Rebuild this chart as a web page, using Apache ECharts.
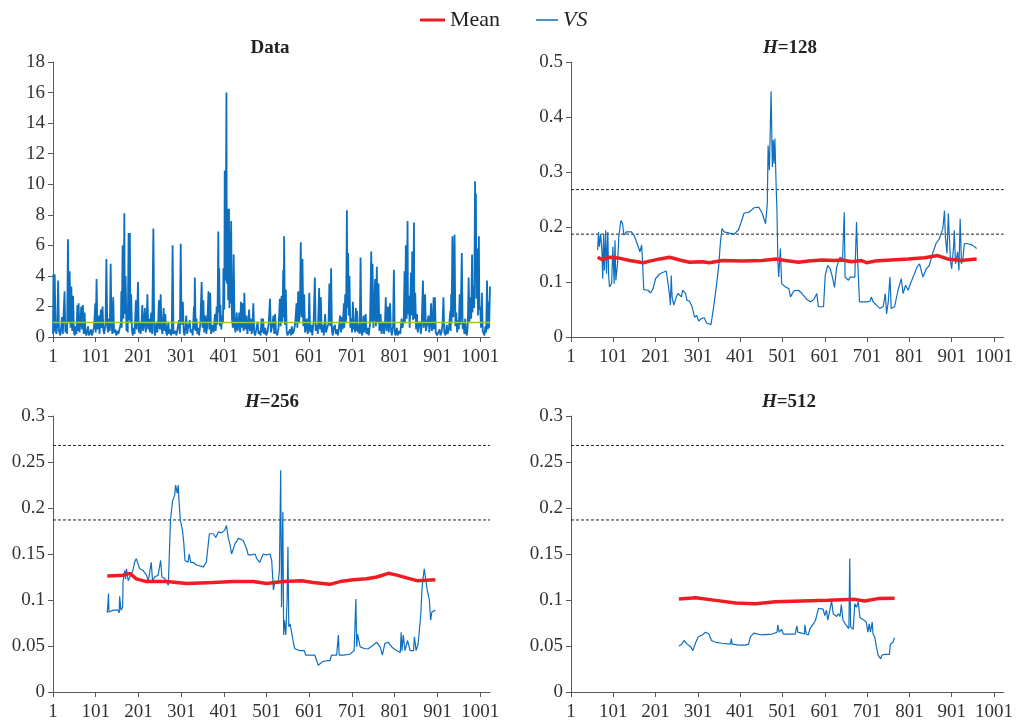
<!DOCTYPE html>
<html>
<head>
<meta charset="utf-8">
<script src="https://cdn.jsdelivr.net/npm/echarts@6/dist/echarts.min.js"></script>
<style>
  html, body { margin: 0; padding: 0; background: #fff; }
  #main { width: 1016px; height: 722px; }
</style>
</head>
<body>
<div id="main"></div>
<script>
// x ticks shared by all panels
var xTicks = [1, 101, 201, 301, 401, 501, 601, 701, 801, 901, 1001];
var critLevels = [0.268, 0.187];
var dataMean = 0.95;

// raw data panel, [index, value]
var rawData = [[1,0.2],[2,4.1],[3,0.3],[5,4.1],[7,0.5],[9,0.2],[11,0.8],[13,3.7],[15,0.4],[18,0.1],[20,0.6],[22,1.3],[24,0.2],[26,0.1],[28,3.0],[30,0.3],[32,0.8],[34,0.2],[36,6.4],[38,0.9],[40,4.3],[42,0.6],[44,3.3],[46,0.4],[48,2.7],[50,0.3],[52,0.1],[54,0.7],[56,0.2],[58,2.1],[59,0.4],[61,2.2],[63,0.3],[65,0.9],[67,2.0],[69,0.5],[71,2.1],[73,0.2],[75,1.6],[77,0.3],[79,0.1],[81,0.4],[83,0.7],[85,0.1],[88,0.3],[90,0.5],[92,0.1],[95,0.2],[97,0.6],[100,2.2],[101,0.3],[103,3.8],[105,0.5],[108,1.4],[110,0.2],[113,1.8],[115,0.6],[117,2.0],[119,0.4],[121,0.2],[124,0.9],[126,5.1],[128,0.7],[130,0.3],[132,1.2],[134,0.4],[136,4.8],[138,0.8],[140,0.2],[142,2.6],[144,0.3],[147,0.5],[149,0.1],[152,0.4],[154,0.2],[156,0.3],[158,0.1],[160,0.9],[161,3.0],[162,0.6],[164,6.0],[166,1.2],[168,8.1],[169,1.5],[171,4.0],[173,0.4],[175,1.0],[176,0.3],[178,6.8],[179,1.1],[181,6.8],[182,0.9],[184,2.8],[186,0.4],[188,0.1],[190,0.6],[192,0.2],[195,2.4],[197,0.5],[200,3.6],[202,0.3],[204,1.0],[206,0.2],[208,0.7],[210,2.1],[212,0.4],[214,0.9],[216,1.9],[218,0.3],[220,0.8],[222,2.8],[224,0.5],[226,1.2],[228,0.3],[231,1.6],[233,0.2],[236,7.1],[238,0.4],[240,0.1],[243,1.0],[245,0.3],[247,0.8],[249,2.4],[251,0.5],[253,2.8],[255,0.6],[257,0.2],[260,1.9],[262,0.4],[264,1.5],[266,0.3],[268,0.1],[271,1.0],[273,0.2],[275,0.5],[277,0.1],[279,0.3],[281,6.0],[283,0.2],[285,0.1],[288,0.4],[290,0.1],[293,0.6],[296,1.1],[298,0.2],[300,6.1],[302,0.8],[305,2.3],[307,0.3],[309,0.1],[311,0.6],[313,1.4],[315,0.2],[318,0.7],[321,1.1],[323,0.3],[326,0.5],[328,0.1],[331,2.0],[332,0.5],[333,3.9],[335,0.4],[337,1.2],[339,0.2],[341,0.6],[343,0.1],[346,0.9],[349,3.6],[351,0.6],[353,2.4],[355,0.3],[358,1.4],[360,0.2],[362,0.7],[365,3.0],[367,0.5],[369,2.9],[371,0.2],[374,0.8],[377,0.3],[380,1.5],[382,0.4],[384,2.0],[386,0.8],[388,6.9],[389,1.6],[390,4.5],[392,0.7],[393,2.1],[395,0.5],[397,1.4],[399,0.9],[400,4.5],[402,1.8],[403,10.9],[405,3.7],[407,16.0],[408,3.5],[410,8.4],[411,2.4],[413,8.4],[414,1.9],[416,6.9],[417,2.2],[418,7.6],[420,1.2],[422,0.6],[424,5.4],[426,0.8],[428,0.3],[431,1.6],[433,0.4],[435,0.8],[437,1.6],[439,0.3],[441,2.3],[443,0.6],[445,2.2],[447,0.4],[449,2.9],[451,0.5],[454,1.4],[456,0.2],[458,0.7],[460,1.8],[462,0.4],[464,1.2],[466,0.2],[468,0.6],[470,2.2],[472,0.3],[474,0.1],[477,0.5],[480,1.0],[482,0.2],[485,0.4],[487,0.1],[489,1.2],[491,0.3],[493,1.2],[495,0.2],[498,0.6],[500,0.1],[503,0.3],[506,0.9],[509,2.5],[511,0.3],[514,0.7],[517,1.4],[519,0.2],[521,1.5],[523,0.3],[526,0.1],[529,0.6],[532,2.5],[534,0.7],[536,2.7],[538,1.0],[540,4.4],[541,1.3],[542,6.6],[544,0.8],[546,3.1],[548,0.4],[550,0.1],[553,0.3],[556,0.5],[558,0.1],[560,0.7],[562,0.2],[565,0.4],[568,0.9],[571,2.2],[573,0.6],[575,3.0],[577,0.9],[579,1.8],[581,6.2],[583,1.3],[585,5.1],[587,0.7],[589,2.8],[591,0.3],[593,0.6],[595,1.2],[597,0.2],[599,0.5],[601,2.9],[603,0.3],[606,0.8],[608,0.1],[611,0.9],[614,3.9],[616,0.4],[619,0.8],[621,0.2],[624,3.2],[626,0.5],[628,2.6],[630,0.3],[633,0.8],[635,0.1],[638,1.5],[640,0.3],[643,0.6],[646,0.9],[648,3.5],[650,0.7],[652,4.5],[654,0.4],[656,0.1],[658,0.6],[661,0.8],[663,0.2],[666,0.5],[668,0.1],[671,0.8],[673,1.4],[675,0.3],[677,1.3],[679,0.5],[682,2.2],[683,0.6],[685,2.8],[687,1.0],[689,8.3],[690,1.9],[692,5.5],[693,1.4],[695,4.0],[697,0.6],[699,1.2],[701,0.3],[703,2.3],[705,0.5],[707,1.0],[708,0.3],[710,1.9],[712,0.4],[713,1.7],[715,0.3],[717,0.8],[719,0.2],[721,5.2],[723,0.4],[725,0.1],[728,1.4],[730,0.3],[733,1.5],[735,0.2],[738,0.6],[740,0.1],[743,0.8],[746,5.6],[747,1.0],[749,4.8],[751,0.6],[753,1.5],[755,3.8],[757,0.7],[759,4.6],[761,0.9],[763,3.5],[765,0.4],[768,1.5],[770,0.2],[772,0.6],[774,1.0],[776,0.2],[778,0.8],[780,2.6],[782,0.4],[785,2.0],[787,0.3],[790,2.2],[792,0.5],[794,0.1],[797,0.7],[799,4.4],[801,0.3],[803,0.1],[806,0.6],[808,0.1],[811,0.4],[814,0.2],[817,1.2],[819,0.6],[822,1.1],[824,4.3],[825,0.9],[827,6.0],[829,1.2],[831,7.6],[832,1.5],[834,2.7],[836,0.6],[839,4.2],[840,1.4],[842,5.6],[844,1.1],[846,7.5],[847,1.2],[849,2.9],[851,0.5],[853,1.5],[855,0.3],[857,0.8],[860,1.0],[862,0.2],[864,0.7],[867,3.7],[869,0.6],[872,2.8],[874,0.4],[877,0.9],[880,1.4],[882,0.3],[884,0.9],[886,2.2],[888,0.4],[890,0.9],[892,2.6],[893,0.5],[895,2.6],[897,0.3],[900,0.1],[903,0.3],[906,0.5],[908,0.1],[911,0.4],[913,0.9],[915,2.6],[917,0.3],[920,0.1],[923,0.8],[925,0.2],[928,0.6],[931,1.7],[932,0.4],[933,2.8],[934,0.9],[936,6.6],[938,1.3],[941,6.7],[943,0.7],[945,1.6],[947,0.3],[949,1.1],[951,0.5],[953,2.8],[955,0.8],[958,5.5],[960,0.5],[962,1.0],[964,0.2],[966,1.2],[968,0.3],[970,0.1],[972,0.8],[974,3.9],[976,1.0],[978,2.6],[980,1.2],[982,5.4],[983,1.6],[985,3.3],[987,1.9],[989,10.2],[990,4.0],[991,9.4],[992,2.5],[994,5.8],[996,1.4],[998,6.6],[999,1.8],[1001,2.0],[1003,0.6],[1005,2.9],[1007,0.4],[1009,0.5],[1011,0.1],[1013,0.7],[1015,0.3],[1017,3.7],[1019,0.5],[1021,2.3],[1022,0.6],[1024,3.3]];

// H=128
var vs128 = [[64,0.158],[66,0.191],[68,0.164],[71,0.187],[74,0.158],[76,0.106],[78,0.188],[80,0.121],[83,0.194],[85,0.115],[88,0.191],[90,0.112],[92,0.091],[93,0.088],[97,0.097],[100,0.164],[103,0.097],[105,0.176],[107,0.103],[111,0.133],[114,0.182],[119,0.212],[123,0.206],[126,0.185],[132,0.191],[144,0.191],[150,0.185],[160,0.164],[164,0.155],[168,0.167],[170,0.139],[173,0.086],[183,0.085],[189,0.080],[195,0.088],[201,0.106],[211,0.115],[226,0.120],[230,0.100],[234,0.076],[236,0.058],[238,0.112],[240,0.073],[244,0.058],[250,0.073],[254,0.079],[262,0.073],[265,0.085],[272,0.079],[275,0.067],[281,0.065],[287,0.056],[293,0.036],[298,0.039],[303,0.029],[308,0.033],[316,0.035],[322,0.025],[327,0.024],[332,0.023],[337,0.048],[344,0.088],[350,0.127],[354,0.170],[358,0.197],[363,0.191],[375,0.189],[387,0.187],[397,0.195],[402,0.206],[410,0.225],[422,0.227],[434,0.235],[445,0.236],[453,0.225],[461,0.206],[465,0.242],[467,0.348],[470,0.303],[474,0.447],[477,0.309],[479,0.358],[481,0.315],[483,0.361],[486,0.273],[488,0.227],[490,0.139],[492,0.109],[496,0.161],[499,0.097],[502,0.094],[508,0.091],[516,0.088],[520,0.073],[528,0.084],[539,0.085],[547,0.079],[559,0.068],[567,0.064],[575,0.068],[582,0.079],[586,0.055],[598,0.055],[602,0.112],[608,0.130],[614,0.124],[619,0.109],[624,0.090],[629,0.127],[637,0.145],[643,0.142],[647,0.227],[649,0.109],[653,0.106],[657,0.103],[661,0.109],[665,0.112],[672,0.109],[676,0.209],[679,0.133],[683,0.064],[692,0.064],[700,0.064],[708,0.065],[711,0.073],[715,0.064],[723,0.058],[731,0.052],[739,0.055],[744,0.079],[747,0.042],[751,0.064],[755,0.109],[758,0.052],[766,0.055],[774,0.085],[782,0.106],[786,0.079],[792,0.094],[798,0.085],[805,0.100],[813,0.115],[819,0.127],[825,0.133],[833,0.109],[841,0.124],[848,0.130],[856,0.152],[864,0.170],[872,0.179],[880,0.197],[884,0.230],[886,0.182],[890,0.152],[893,0.225],[898,0.139],[901,0.124],[906,0.170],[907,0.194],[910,0.133],[915,0.155],[918,0.121],[921,0.215],[924,0.133],[927,0.139],[931,0.170],[937,0.170],[950,0.167],[960,0.161]];
var mean128 = [[64,0.145],[74,0.141],[93,0.145],[117,0.143],[140,0.139],[172,0.135],[187,0.138],[211,0.142],[234,0.145],[258,0.140],[281,0.136],[312,0.137],[328,0.135],[359,0.139],[406,0.138],[453,0.139],[485,0.142],[508,0.139],[539,0.136],[563,0.138],[594,0.140],[625,0.139],[641,0.140],[665,0.137],[688,0.139],[700,0.135],[719,0.138],[758,0.140],[798,0.142],[837,0.144],[868,0.148],[891,0.142],[923,0.139],[960,0.142]];

// H=256
var vs256 = [[128,0.086],[131,0.107],[132,0.087],[142,0.089],[153,0.089],[156,0.086],[157,0.104],[160,0.089],[164,0.092],[165,0.120],[169,0.132],[171,0.123],[173,0.134],[177,0.121],[181,0.125],[185,0.129],[188,0.132],[192,0.141],[196,0.145],[200,0.147],[204,0.134],[212,0.132],[220,0.127],[224,0.120],[228,0.121],[231,0.141],[234,0.121],[239,0.125],[247,0.127],[253,0.143],[256,0.125],[263,0.123],[271,0.116],[276,0.187],[281,0.208],[286,0.214],[288,0.225],[292,0.216],[294,0.225],[296,0.208],[299,0.187],[304,0.176],[307,0.163],[310,0.143],[317,0.141],[320,0.150],[323,0.141],[329,0.141],[337,0.138],[353,0.136],[360,0.141],[367,0.172],[376,0.172],[382,0.168],[388,0.174],[396,0.173],[403,0.176],[407,0.181],[411,0.168],[415,0.161],[419,0.150],[427,0.161],[435,0.167],[446,0.165],[454,0.156],[458,0.149],[466,0.149],[474,0.150],[478,0.145],[485,0.141],[493,0.150],[501,0.149],[509,0.150],[513,0.143],[517,0.111],[521,0.121],[524,0.123],[528,0.118],[531,0.132],[534,0.241],[536,0.092],[539,0.196],[541,0.062],[543,0.078],[546,0.062],[549,0.100],[551,0.158],[553,0.071],[556,0.074],[564,0.053],[567,0.047],[579,0.045],[589,0.045],[593,0.040],[603,0.040],[614,0.040],[618,0.042],[622,0.029],[626,0.027],[632,0.033],[642,0.034],[649,0.034],[653,0.040],[665,0.040],[669,0.062],[671,0.040],[681,0.040],[696,0.041],[706,0.045],[710,0.101],[712,0.049],[714,0.063],[720,0.049],[731,0.047],[739,0.047],[751,0.051],[759,0.054],[767,0.049],[772,0.040],[778,0.053],[786,0.054],[794,0.049],[802,0.046],[814,0.043],[816,0.065],[818,0.045],[821,0.062],[825,0.045],[831,0.056],[837,0.045],[845,0.045],[847,0.060],[851,0.045],[856,0.053],[862,0.085],[865,0.114],[870,0.134],[874,0.132],[877,0.111],[882,0.100],[885,0.078],[888,0.087],[892,0.085],[896,0.089]];
var mean256 = [[128,0.126],[165,0.127],[181,0.129],[196,0.123],[220,0.120],[267,0.120],[314,0.118],[376,0.119],[423,0.120],[470,0.120],[501,0.118],[540,0.120],[583,0.121],[610,0.119],[649,0.117],[673,0.120],[704,0.122],[735,0.123],[759,0.125],[786,0.129],[806,0.127],[829,0.124],[853,0.121],[896,0.122]];

// H=512
var vs512 = [[256,0.050],[263,0.052],[268,0.056],[276,0.052],[284,0.049],[289,0.045],[296,0.054],[302,0.060],[311,0.062],[319,0.065],[327,0.063],[333,0.056],[343,0.054],[358,0.053],[378,0.052],[380,0.058],[382,0.052],[398,0.051],[413,0.051],[421,0.052],[425,0.060],[433,0.064],[437,0.062],[452,0.062],[476,0.063],[488,0.065],[490,0.073],[493,0.065],[499,0.068],[503,0.063],[515,0.063],[531,0.063],[535,0.072],[537,0.065],[546,0.064],[553,0.063],[554,0.073],[557,0.063],[562,0.062],[566,0.069],[570,0.069],[574,0.074],[579,0.078],[586,0.091],[597,0.090],[601,0.083],[605,0.089],[608,0.078],[613,0.089],[617,0.099],[621,0.085],[625,0.083],[629,0.082],[633,0.085],[637,0.082],[640,0.095],[644,0.078],[652,0.072],[658,0.069],[660,0.145],[662,0.071],[668,0.068],[672,0.096],[676,0.092],[680,0.098],[684,0.081],[688,0.081],[694,0.078],[699,0.076],[703,0.065],[706,0.074],[709,0.065],[713,0.076],[715,0.063],[719,0.060],[723,0.049],[727,0.040],[733,0.036],[736,0.040],[742,0.041],[754,0.041],[756,0.052],[760,0.052],[762,0.054],[766,0.059]];
var mean512 = [[256,0.101],[296,0.1025],[343,0.0996],[390,0.0967],[437,0.096],[484,0.098],[546,0.099],[609,0.0996],[672,0.1007],[695,0.099],[727,0.1015],[766,0.102]];

var serif = "'Liberation Serif', 'Times New Roman', serif";
var axisColor = '#595959';
var labelColor = '#333';
var blue = '#0F6FBF';
var red = '#EE1D23';

var grids = [
    {left: 53, top: 62, width: 437, height: 275},
    {left: 571, top: 62, width: 436, height: 275},
    {left: 53, top: 416, width: 437, height: 276},
    {left: 571, top: 416, width: 436, height: 276}
];
var yRanges = [[0, 18, 2], [0, 0.5, 0.1], [0, 0.3, 0.05], [0, 0.3, 0.05]];

function makeXAxis(i) {
    return {
        type: 'value', gridIndex: i, min: 1, max: 1024,
        axisLine: {show: true, lineStyle: {color: axisColor, width: 1}},
        axisTick: {show: true, length: 5, customValues: xTicks, lineStyle: {color: axisColor}},
        axisLabel: {
            customValues: xTicks, margin: 11, fontFamily: serif, fontSize: 19, color: labelColor,
            formatter: function (v) { return '' + v; }
        },
        splitLine: {show: false}
    };
}
function makeYAxis(i) {
    return {
        type: 'value', gridIndex: i, min: yRanges[i][0], max: yRanges[i][1], interval: yRanges[i][2],
        axisLine: {show: true, lineStyle: {color: axisColor, width: 1}},
        axisTick: {show: true, length: 5, lineStyle: {color: axisColor}},
        axisLabel: {margin: 8, fontFamily: serif, fontSize: 19, color: labelColor},
        splitLine: {show: false}
    };
}
function lineSeries(name, i, data, color, width, dash) {
    var s = {
        name: name, type: 'line', xAxisIndex: i, yAxisIndex: i, data: data,
        symbol: 'none', showSymbol: false, silent: true, animation: false,
        lineStyle: {color: color, width: width}, itemStyle: {color: color}
    };
    if (dash) s.lineStyle.type = dash;
    return s;
}
function critLines(i) {
    return critLevels.map(function (v) {
        return lineSeries('crit', i, [[1, v], [1024, v]], '#222', 1, [3, 2]);
    });
}

function titleItem(text, x, y) {
    return {
        text: text, left: x, top: y, textAlign: 'center',
        textStyle: {
            fontFamily: serif, fontSize: 19, fontWeight: 'bold', color: '#222',
            rich: {
                i: {fontFamily: serif, fontSize: 19, fontWeight: 'bold', fontStyle: 'italic', color: '#222'},
                b: {fontFamily: serif, fontSize: 19, fontWeight: 'bold', color: '#222'}
            }
        }
    };
}

var series = [];
series.push(lineSeries('Data', 0, rawData, blue, 1.8));
series.push(lineSeries('Data mean', 0, [[1, dataMean], [1024, dataMean]], '#A3C23A', 1.5));
series = series.concat(critLines(1), critLines(2), critLines(3));
series.push(lineSeries('VS', 1, vs128, blue, 1.2));
series.push(lineSeries('Mean', 1, mean128, red, 3.5));
series.push(lineSeries('VS', 2, vs256, blue, 1.2));
series.push(lineSeries('Mean', 2, mean256, red, 3.5));
series.push(lineSeries('VS', 3, vs512, blue, 1.2));
series.push(lineSeries('Mean', 3, mean512, red, 3.5));

var legendText = {fontFamily: serif, fontSize: 22, color: '#222'};
var option = {
    backgroundColor: '#fff',
    animation: false,
    title: [
        titleItem('Data', 265, 34),
        titleItem('{i|H}{b|=128}', 785, 34),
        titleItem('{i|H}{b|=256}', 267, 388),
        titleItem('{i|H}{b|=512}', 784, 388)
    ],
    legend: [
        {
            left: 420, top: 9, padding: 0, itemWidth: 25, itemHeight: 3, icon: 'rect',
            textStyle: legendText, data: ['Mean']
        },
        {
            left: 536, top: 9, padding: 0, itemWidth: 22, itemHeight: 1.5, icon: 'rect',
            textStyle: legendText, data: [{name: 'VS', textStyle: {fontStyle: 'italic'}}]
        }
    ],
    grid: grids,
    xAxis: [makeXAxis(0), makeXAxis(1), makeXAxis(2), makeXAxis(3)],
    yAxis: [makeYAxis(0), makeYAxis(1), makeYAxis(2), makeYAxis(3)],
    series: series
};

var myChart = echarts.init(document.getElementById('main'));
myChart.setOption(option);
</script>
</body>
</html>
